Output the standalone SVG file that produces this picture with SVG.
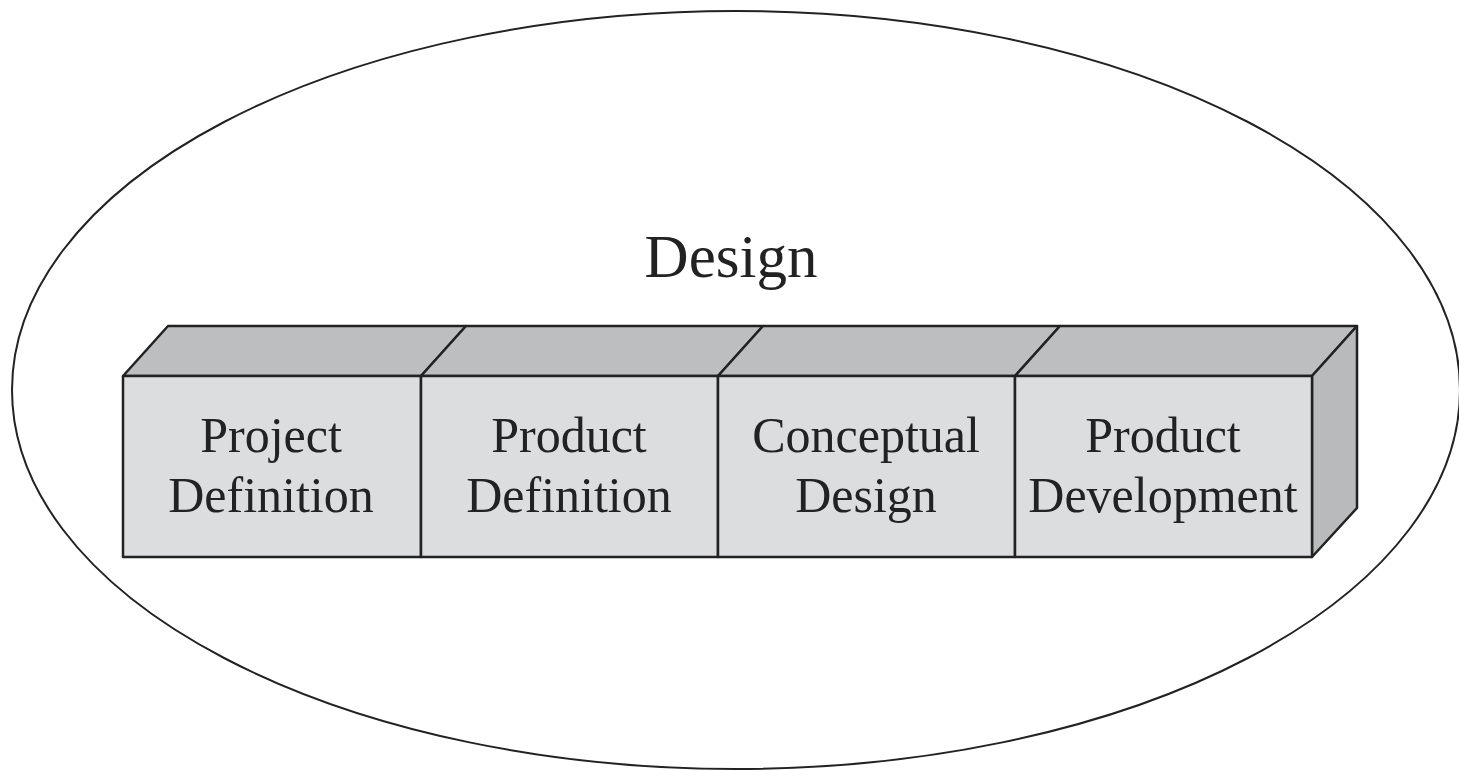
<svg xmlns="http://www.w3.org/2000/svg" width="1459" height="771" viewBox="0 0 1459 771">
<style>
.front{fill:#dcdddf;stroke:#222;stroke-width:2.5;stroke-linejoin:round}
.top{fill:#bdbec0;stroke:#222;stroke-width:2.5;stroke-linejoin:round}
.side{fill:#b9babc;stroke:#222;stroke-width:2.5;stroke-linejoin:round}
.lbl{font-family:"Liberation Serif","Times New Roman",serif;font-size:50px;fill:#222;text-anchor:middle}
.title{font-family:"Liberation Serif","Times New Roman",serif;font-size:61px;fill:#222;text-anchor:middle}
</style>
<rect width="1459" height="771" fill="#fff"/>
<g id="design">
<ellipse cx="736" cy="390" rx="724" ry="379" fill="none" stroke="#222" stroke-width="2"/>
<text class="title" x="731" y="277">Design</text>
</g>
<g id="project-definition">
<polygon class="top" points="123,376 168,326 466,326 421,376"/>
<rect class="front" x="123" y="376" width="298" height="181"/>
<text class="lbl" x="271" y="452">Project</text>
<text class="lbl" x="271" y="512">Definition</text>
</g>
<g id="product-definition">
<polygon class="top" points="421,376 466,326 763,326 718,376"/>
<rect class="front" x="421" y="376" width="297" height="181"/>
<text class="lbl" x="569" y="452">Product</text>
<text class="lbl" x="569" y="512">Definition</text>
</g>
<g id="conceptual-design">
<polygon class="top" points="718,376 763,326 1060,326 1015,376"/>
<rect class="front" x="718" y="376" width="297" height="181"/>
<text class="lbl" x="866" y="452">Conceptual</text>
<text class="lbl" x="866" y="512">Design</text>
</g>
<g id="product-development">
<polygon class="top" points="1015,376 1060,326 1357,326 1312,376"/>
<polygon class="side" points="1312,376 1357,326 1357,508 1312,557"/>
<rect class="front" x="1015" y="376" width="297" height="181"/>
<text class="lbl" x="1163" y="452">Product</text>
<text class="lbl" x="1163" y="512">Development</text>
</g>
<g id="connectors"></g>
</svg>
